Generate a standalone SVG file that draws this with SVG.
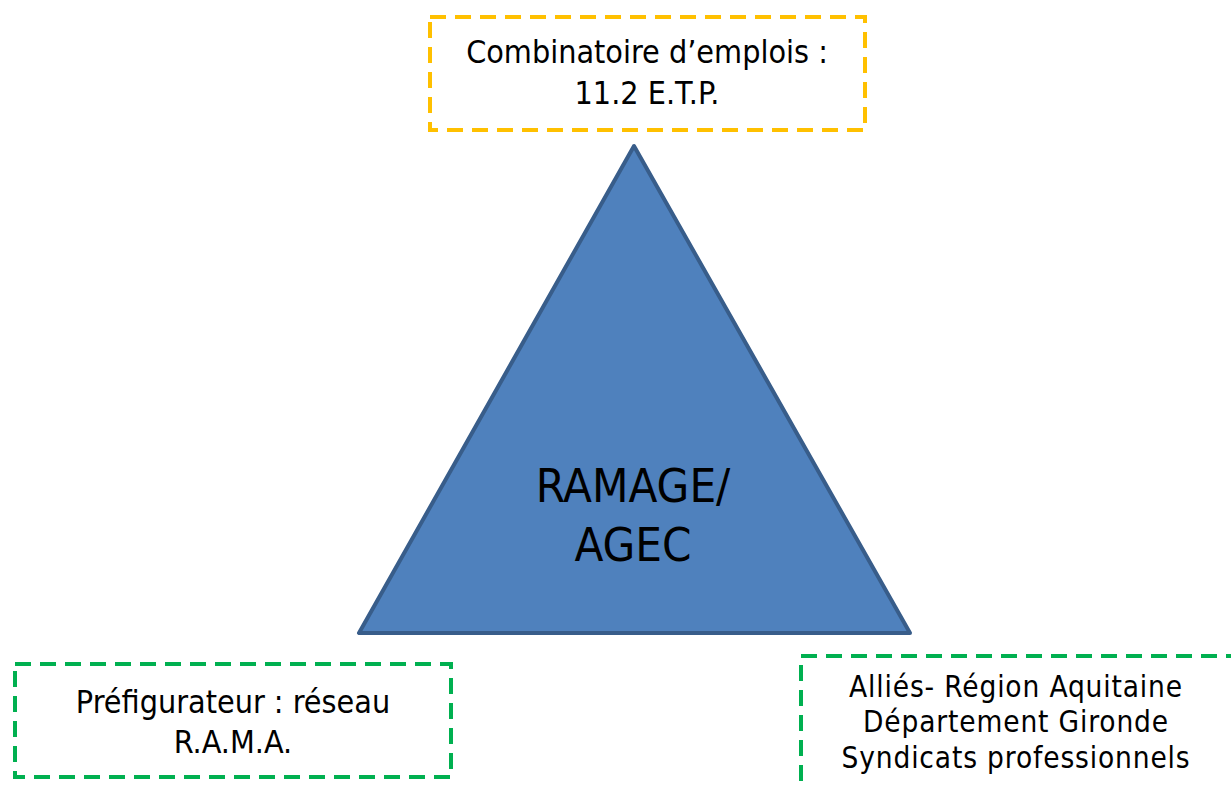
<svg xmlns="http://www.w3.org/2000/svg" width="1231" height="788" viewBox="0 0 1231 788">
<style>
.box{fill:none;stroke-width:4;stroke-dasharray:16 9}
.y{stroke:#FFC000}
.g{stroke:#00B050}
.t{font-family:"DejaVu Sans",sans-serif;font-stretch:condensed;font-size:32px;fill:#000;text-anchor:middle}
.s{font-size:29.5px;letter-spacing:0.85px}
.big{font-family:"DejaVu Sans",sans-serif;font-stretch:condensed;font-size:47px;fill:#000;text-anchor:middle}
</style>
<rect width="1231" height="788" fill="#fff"/>
<g id="triangle">
<polygon points="634,146 359,633 910,633" fill="#4F81BD" stroke="#385D8A" stroke-width="4" stroke-linejoin="round"/>
<text class="big" x="633" y="502">RAMAGE/</text>
<text class="big" x="633" y="561">AGEC</text>
</g>
<g id="top">
<rect class="box y" x="430" y="17" width="435" height="113"/>
<text class="t" x="647" y="63">Combinatoire d’emplois :</text>
<text class="t" x="647" y="104">11.2 E.T.P.</text>
</g>
<g id="left">
<rect class="box g" x="15" y="664" width="436" height="113"/>
<text class="t" x="233" y="713">Préfigurateur : réseau</text>
<text class="t" x="233" y="753">R.A.M.A.</text>
</g>
<g id="right">
<rect class="box g" x="801" y="656" width="450" height="150"/>
<text class="t s" x="1016" y="697">Alliés- Région Aquitaine</text>
<text class="t s" x="1016" y="732">Département Gironde</text>
<text class="t s" x="1016" y="768">Syndicats professionnels</text>
</g>
<g id="connectors"></g>
</svg>
